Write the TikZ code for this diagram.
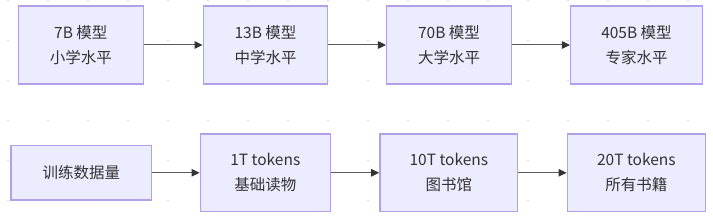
\documentclass[tikz,border=0pt]{standalone}
\usepackage{fontspec}
\setmainfont{Noto Sans CJK SC}
\usetikzlibrary{arrows.meta}
\definecolor{boxfill}{HTML}{ECECFF}
\definecolor{boxline}{HTML}{B4A0E8}
\definecolor{edgecol}{HTML}{333333}
\definecolor{dotcol}{HTML}{DCDCDC}
\tikzset{
  box/.style={draw=boxline, fill=boxfill, line width=1.5pt, inner sep=0pt,
    align=center, text=edgecol, font=\fontsize{15.5}{25}\selectfont},
  edge/.style={draw=edgecol!80, line width=1pt, -{Triangle[length=8pt,width=7.5pt,color=edgecol]}}
}
\begin{document}
\begin{tikzpicture}[x=1pt,y=-1pt]
\useasboundingbox (0,0) rectangle (713,219);
\fill[white] (0,0) rectangle (713,219);
\foreach \i in {0,...,17}{
  \foreach \j in {0,...,5}{
    \fill[dotcol] (8+40*\i,0.7+40*\j) circle (1pt);
  }
}
\node[box, minimum width=125pt, minimum height=78pt] (m7) at (80.8,45) {7B 模型\\小学水平};
\node[box, minimum width=124.4pt, minimum height=78pt] (m13) at (265.5,45) {13B 模型\\中学水平};
\node[box, minimum width=124.6pt, minimum height=78pt] (m70) at (449,45) {70B 模型\\大学水平};
\node[box, minimum width=131.6pt, minimum height=78pt] (m405) at (636.5,45) {405B 模型\\专家水平};
\node[box, minimum width=140.7pt, minimum height=54.3pt] (d0) at (81.3,172.8) {训练数据量};
\node[box, minimum width=130pt, minimum height=77.7pt] (d1) at (265.3,172.8) {1T tokens\\基础读物};
\node[box, minimum width=137.7pt, minimum height=77.7pt] (d10) at (448.8,172.8) {10T tokens\\图书馆};
\node[box, minimum width=138pt, minimum height=77.7pt] (d20) at (636.3,172.8) {20T tokens\\所有书籍};
\draw[edge] (m7) -- (m13);
\draw[edge] (m13) -- (m70);
\draw[edge] (m70) -- (m405);
\draw[edge] (d0) -- (d1);
\draw[edge] (d1) -- (d10);
\draw[edge] (d10) -- (d20);
\end{tikzpicture}
\end{document}
